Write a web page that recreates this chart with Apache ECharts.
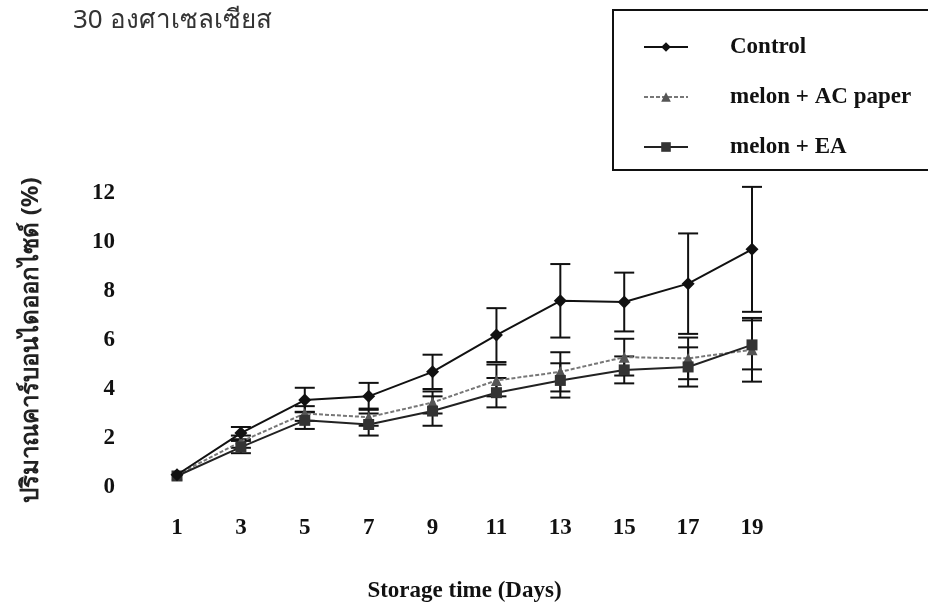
<!DOCTYPE html>
<html>
<head>
<meta charset="utf-8">
<script src="https://cdn.jsdelivr.net/npm/echarts@6/dist/echarts.min.js"></script>
<style>
  html, body { margin: 0; padding: 0; background: #ffffff; }
  #chart { width: 928px; height: 605px; }
</style>
</head>
<body>
<div id="chart"></div>
<script>
// ---- data ----
var days = ['1', '3', '5', '7', '9', '11', '13', '15', '17', '19'];
var yTicks = [0, 2, 4, 6, 8, 10, 12];
var control = [0.5, 2.2, 3.55, 3.7, 4.7, 6.2, 7.6, 7.55, 8.3, 9.7];
var controlErr = [0, 0.25, 0.5, 0.55, 0.7, 1.1, 1.5, 1.2, 2.05, 2.55];
var acPaper = [0.5, 1.85, 3.0, 2.85, 3.45, 4.35, 4.7, 5.3, 5.25, 5.6];
var acPaperErr = [0, 0.25, 0.3, 0.35, 0.45, 0.65, 0.8, 0.75, 0.85, 1.3];
var ea = [0.45, 1.63, 2.72, 2.55, 3.1, 3.85, 4.35, 4.78, 4.9, 5.8];
var eaErr = [0, 0.25, 0.35, 0.45, 0.6, 0.6, 0.7, 0.55, 0.8, 1.0];
var seriesNames = ['Control', 'melon + AC paper', 'melon + EA'];
var titleText = '30 องศาเซลเซียส';
var yName = 'ปริมาณคาร์บอนไดออกไซด์ (%)';
var xName = 'Storage time (Days)';

var serif = '"Liberation Serif", "DejaVu Serif", serif';

function errData(vals, errs) {
  return vals.map(function (v, i) { return [i, v, errs[i]]; });
}

function errSeries(vals, errs) {
  return {
    type: 'custom',
    z: 1,
    silent: true,
    data: errData(vals, errs),
    encode: { x: 0, y: 1 },
    renderItem: function (params, api) {
      var x = api.value(0), m = api.value(1), e = api.value(2);
      if (!e) return null;
      var top = api.coord([x, m + e]);
      var bot = api.coord([x, m - e]);
      var hw = 10;
      var st = { stroke: '#111', lineWidth: 2 };
      return {
        type: 'group',
        children: [
          { type: 'line', shape: { x1: top[0], y1: top[1], x2: bot[0], y2: bot[1] }, style: st },
          { type: 'line', shape: { x1: top[0] - hw, y1: top[1], x2: top[0] + hw, y2: top[1] }, style: st },
          { type: 'line', shape: { x1: bot[0] - hw, y1: bot[1], x2: bot[0] + hw, y2: bot[1] }, style: st }
        ]
      };
    }
  };
}

var chart = echarts.init(document.getElementById('chart'), null, { renderer: 'canvas' });
chart.setOption({
  animation: false,
  backgroundColor: '#ffffff',
  title: {
    text: titleText,
    left: 68,
    top: 3,
    textStyle: { fontFamily: '"Noto Sans", "DejaVu Sans", sans-serif', fontSize: 26, fontWeight: 'normal', color: '#333' }
  },
  legend: {
    data: seriesNames,
    orient: 'vertical',
    left: 613,
    top: 10,
    padding: [24, 40, 10, 30],
    itemWidth: 44,
    itemHeight: 12,
    itemGap: 24,
    borderColor: '#111',
    borderWidth: 2,
    backgroundColor: '#fff',
    textStyle: { fontFamily: serif, fontWeight: 'bold', fontSize: 23, color: '#111', lineHeight: 26, padding: [0, 0, 0, 37] }
  },
  grid: { left: 177, right: 176, top: 193, bottom: 118, containLabel: false },
  xAxis: {
    type: 'category',
    data: days,
    boundaryGap: false,
    axisLine: { show: false },
    axisTick: { show: false },
    splitLine: { show: false },
    axisLabel: { margin: 30, fontFamily: serif, fontWeight: 'bold', fontSize: 23, color: '#111' },
    name: xName,
    nameLocation: 'middle',
    nameGap: 93,
    nameTextStyle: { fontFamily: serif, fontWeight: 'bold', fontSize: 23, color: '#111' }
  },
  yAxis: {
    type: 'value',
    min: yTicks[0],
    max: yTicks[yTicks.length - 1],
    interval: 2,
    axisLine: { show: false },
    axisTick: { show: false },
    splitLine: { show: false },
    axisLabel: { margin: 62, fontFamily: serif, fontWeight: 'bold', fontSize: 23, color: '#111' },
    name: yName,
    nameLocation: 'middle',
    nameRotate: 90,
    nameGap: 134,
    nameTextStyle: { fontFamily: '"Noto Sans", "DejaVu Sans", sans-serif', fontWeight: 'bold', fontSize: 24, color: '#222' }
  },
  series: [
    errSeries(control, controlErr),
    errSeries(acPaper, acPaperErr),
    errSeries(ea, eaErr),
    {
      name: seriesNames[0], type: 'line', z: 3, data: control,
      symbol: 'diamond', symbolSize: 13,
      itemStyle: { color: '#111' },
      lineStyle: { color: '#111', width: 2 }
    },
    {
      name: seriesNames[1], type: 'line', z: 2, data: acPaper,
      symbol: 'triangle', symbolSize: 11,
      itemStyle: { color: '#555' },
      lineStyle: { color: '#777', width: 2, type: [4, 2] }
    },
    {
      name: seriesNames[2], type: 'line', z: 2, data: ea,
      symbol: 'rect', symbolSize: 11,
      itemStyle: { color: '#333' },
      lineStyle: { color: '#222', width: 2 }
    }
  ]
});
</script>
</body>
</html>
